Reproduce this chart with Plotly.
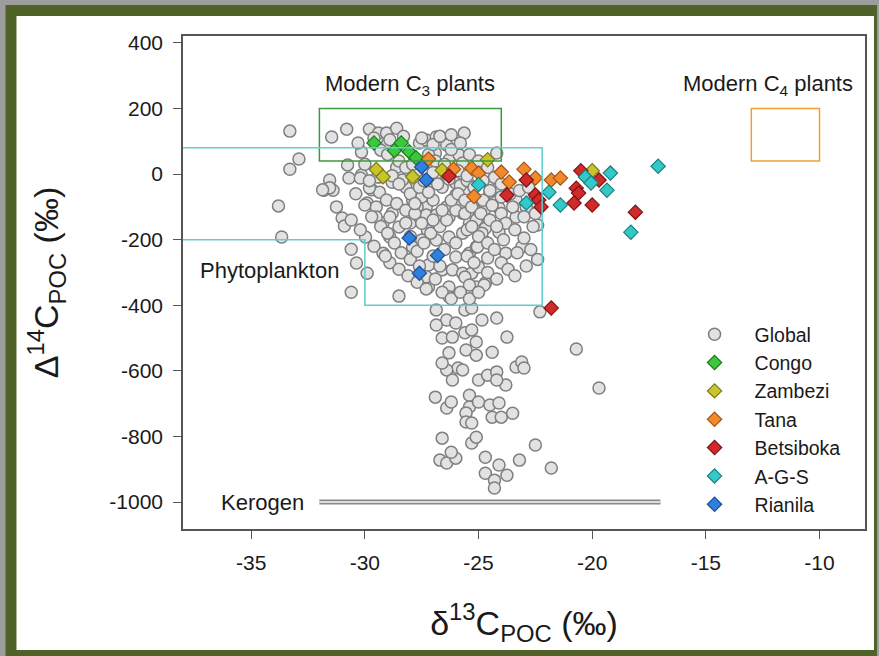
import plotly.graph_objects as go

# ---- data: delta13C (x, permil) and Delta14C (y, permil) ----
global_x = [
    -33.3, -31.46, -30.8, -29.8, -29.4, -29.05, -28.6, -32.9, -33.3, -30.15, -30.76, -31.55, -31.8, -31.4,
    -30.7, -30.15, -33.8, -31.25, -31.0, -30.9, -33.66, -29.97, -30.6, -30.37, -29.9, -30.6, -29.2, -28.5,
    -29.0, -29.36, -29.7, -29.36, -29.9, -29.5, -29.05, -29.2, -28.8, -28.5, -28.9, -27.9, -28.0, -27.6,
    -27.9, -28.2, -27.6, -27.3, -27.7, -28.6, -27.3, -27.25, -27.6, -27.3,
    -25.63, -26.86, -26.4, -26.0, -29.3, -31.55, -31.86, -30.2, -29.8, -29.45, -28.8, -28.35, -26.9, -26.8,
    -26.3, -25.85, -25.7, -26.9, -26.6, -26.0, -26.0, -25.55, -25.1, -26.4, -27.0, -27.5, -27.7, -27.3,
    -26.86, -26.3, -25.7, -25.4, -25.0, -25.7, -26.3, -26.86, -27.5, -28.2, -28.9, -29.5, -30.0,
    -27.2, -26.6, -26.15, -25.7, -25.3, -26.0, -25.4, -25.1, -24.8, -24.7, -24.7, -25.1, -26.3, -27.2,
    -27.3, -26.3,
    -26.86, -26.4, -26.86, -26.0, -25.6, -25.3, -24.85, -24.2, -26.6, -26.15, -25.6, -25.3, -25.1, -25.55,
    -26.3, -25.9, -26.4, -26.6, -26.15, -25.7, -25.1, -24.4, -23.75, -25.0, -24.6, -24.2, -23.8, -24.2,
    -23.35, -23.1, -26.9, -26.4, -26.2, -25.4, -25.4, -25.55, -25.55, -25.0, -24.5, -24.1, -24.4, -24.0,
    -23.5, -25.3, -26.6, -25.3, -25.1, -26.7, -26.4, -26.0, -26.2, -24.7, -24.7, -24.1, -23.75, -24.3,
    -24.3, -23.2,
    -23.0, -20.7, -22.5, -21.8, -22.3, -19.7,
    -24.2, -22.4, -23.1, -24.1, -23.8, -24.6, -25.0, -22.5, -24.1, -24.75, -25.1, -25.2, -25.85, -25.5,
    -24.85, -23.35, -24.5, -24.1, -23.35, -22.9, -25.6, -25.4, -24.75, -25.05,
    -29.0, -28.5, -28.2, -27.9, -27.2, -26.9, -26.5, -26.2, -25.8, -25.4, -25.0, -24.6, -24.3, -24.0,
    -23.6, -23.2, -22.8,
    -28.8, -28.5, -28.0, -27.6, -27.2, -26.8, -26.3, -25.8, -25.5, -25.2, -24.8, -24.4, -24.0, -23.8,
    -23.4, -23.0, -22.7, -22.4,
    -29.7, -29.3, -29.0, -28.7, -28.4, -28.0, -27.7, -27.4, -27.1, -26.7, -26.4, -26.0, -25.6, -25.3,
    -25.0, -24.6, -24.3, -24.0, -23.7, -23.4,
    -28.6, -28.2, -27.8, -27.5, -27.0, -26.6, -26.2, -25.9, -25.6, -25.3, -24.9, -24.5, -24.2, -23.9,
    -28.9, -28.5, -28.1, -27.7, -27.3, -26.9, -26.6, -26.2, -25.8, -25.4, -25.0, -24.6, -24.2,
    -27.5, -27.0, -26.7, -26.2, -28.3, -28.9, -29.6, -30.3, -30.0, -29.8, -30.4, -30.6, -30.2, -29.6,
    -29.1, -27.0, -26.5, -26.0, -25.5, -25.2, -26.7, -27.6, -28.0, -27.8, -27.4, -27.0, -26.4, -25.9,
    -25.5, -24.8, -24.5, -24.0, -23.5, -23.0, -22.6, -22.9, -23.3, -22.5,
]
global_y = [
    131, 113, 137, 137, 125, 125, 140, 46, 15, 67, 28, -18, -49, -49,
    -12, -3, -97, -100, -134, -158, -192, -192, -229, -271, -302, -360, -241, -372,
    95, -9, -48, -55, -88, -100, -79, -149, -119, -161, -192, -222, -149, -131,
    -79, -40, -49, -18, 6, 21, -100, -171, 95, 104,
    125, 113, 89, 73, 73, -42, -48, -12, -42, -9, -25, -18, 64, 21,
    43, 58, 34, -9, -40, -27, -64, -58, -79, -100, -79, -70, -100, -125,
    -125, -131, -119, -149, -131, -180, -192, -201, -201, -149, -131, -131, -94,
    -277, -292, -292, -302, -302, -253, -241, -222, -201, -165, -332, -344, -344, -344,
    -313, -374,
    -414, -445, -460, -454, -414, -408, -445, -439, -500, -497, -484, -475, -512, -536,
    -545, -591, -597, -576, -628, -597, -552, -543, -497, -628, -613, -603, -643, -628,
    -588, -573, -680, -713, -695, -674, -710, -728, -756, -695, -704, -698, -741, -741,
    -729, -759, -805, -820, -802, -872, -881, -866, -848, -863, -912, -887, -918, -933,
    -957, -872,
    -591, -533, -826, -896, -420, -652,
    64, -155, -222, -177, -241, -256, -283, -73, -103, -110, -140, -70, -94, -170,
    -180, -131, -55, -40, -79, -100, -314, -338, -338, -222,
    60, 40, 20, 30, 60, 40, 30, 75, 95, 60, 40, 20, -10, -30,
    -60, -50, -40,
    -5, -30, -60, -40, -55, -30, -15, -35, -20, -40, -80, -95, -120, -150,
    -170, -195, -230, -260,
    -130, -160, -180, -210, -240, -260, -235, -210, -180, -160, -140, -110, -120, -160,
    -190, -210, -230, -270, -290, -310,
    -90, -110, -120, -150, -140, -110, -80, -60, -80, -100, -120, -140, -160, -200,
    -270, -290, -310, -330, -350, -320, -360, -380, -360, -380, -360, -300, -320,
    110, 90, 115, 120, 115, 105, 110, 95, 30, -20, -60, -140, -170, -220,
    -250, -250, -230, -210, -250, -270, -280, -280, -190, -90, -20, 5, 0, 10,
    -5, -20, -50, -70, -100, -130, -160, -280, -240, -120,
]

congo_x = [-29.6, -28.7, -28.4, -28.05, -27.75]
congo_y = [95, 72, 95, 68, 50]

zambezi_x = [-29.5, -29.2, -27.9, -26.6, -24.6, -20.0]
zambezi_y = [14, -8, -8, 12, 44, 10]

tana_x = [-27.2, -26.1, -25.3, -25.0, -25.2, -24.0, -23.65, -23.0, -22.5, -21.8, -21.4]
tana_y = [46, 15, 18, 3, -68, 6, -24, 15, -12, -18, -12]

betsiboka_x = [-26.3, -23.75, -22.9, -22.5, -22.35, -22.25, -20.5, -20.7, -20.6, -20.8, -20.0, -19.7, -18.1, -21.8]
betsiboka_y = [-6, -64, -18, -64, -79, -100, 10, -43, -58, -88, -94, -18, -116, -408]

ags_x = [-25.0, -22.9, -21.9, -21.4, -20.3, -20.05, -19.2, -19.35, -17.1, -18.3]
ags_y = [-32, -88, -55, -94, -9, -27, 3, -49, 24, -177]

rianila_x = [-27.5, -27.3, -28.05, -26.8, -27.6]
rianila_y = [22, -18, -195, -248, -302]

x_ticks = [-35, -30, -25, -20, -15, -10]
x_ticktext = ["-35", "-30", "-25", "-20", "-15", "-10"]
y_ticks = [400, 200, 0, -200, -400, -600, -800, -1000]
y_ticktext = ["400", "200", "0", "-200", "-400", "-600", "-800", "-1000"]

FONT = "Liberation Sans, Arial, sans-serif"
TXT = "#1a1a1a"

fig = go.Figure()

fig.add_trace(go.Scatter(
    x=global_x, y=global_y, mode="markers", name="Global",
    marker=dict(symbol="circle", size=12, color="#e2e2e2",
                line=dict(color="#7f7f7f", width=1.5)),
))

rivers = [
    ("Congo", congo_x, congo_y, "#3cc83c", "#1f7a1f"),
    ("Zambezi", zambezi_x, zambezi_y, "#c9c42a", "#7c7a1a"),
    ("Tana", tana_x, tana_y, "#f2892a", "#a3561a"),
    ("Betsiboka", betsiboka_x, betsiboka_y, "#d02a2a", "#7e1414"),
    ("A-G-S", ags_x, ags_y, "#35c8c8", "#1c7f80"),
    ("Rianila", rianila_x, rianila_y, "#2f7fdc", "#1a4f93"),
]
for name, xs, ys, fill, edge in rivers:
    fig.add_trace(go.Scatter(
        x=xs, y=ys, mode="markers", name=name,
        marker=dict(symbol="diamond", size=11, color=fill,
                    line=dict(color=edge, width=1.2)),
    ))

# plot-area geometry in pixels, used to place the framed background
W, H = 879, 656
ML, MR, MT, MB = 183, 12, 36, 127
PW, PH = W - ML - MR, H - MT - MB


def px(xp):
    return (xp - ML) / PW


def py(yp):
    return 1 - (yp - MT) / PH


shapes = [
    # green frame and white card behind the chart
    dict(type="rect", xref="paper", yref="paper", layer="below",
         x0=px(5), x1=px(879), y0=py(656), y1=py(5),
         fillcolor="#4f6228", line=dict(width=0)),
    dict(type="rect", xref="paper", yref="paper", layer="below",
         x0=px(16), x1=px(876), y0=py(650), y1=py(16),
         fillcolor="#ffffff", line=dict(width=0)),
    # modern C3 plants
    dict(type="rect", xref="x", yref="y", x0=-32, x1=-24, y0=40, y1=200,
         line=dict(color="#3c9a3c", width=1.5)),
    # modern C4 plants
    dict(type="rect", xref="x", yref="y", x0=-13, x1=-10, y0=40, y1=200,
         line=dict(color="#f0a033", width=1.5)),
    # phytoplankton
    dict(type="path", xref="x", yref="y",
         path="M -38,80 L -22.2,80 L -22.2,-400 L -30,-400 L -30,-200 L -38,-200",
         line=dict(color="#5ccfcf", width=1.5)),
    # kerogen
    dict(type="line", xref="x", yref="y", x0=-32, x1=-17, y0=-1000, y1=-1000,
         line=dict(color="#8a8a8a", width=5)),
    dict(type="line", xref="x", yref="y", x0=-32, x1=-17, y0=-1000, y1=-1000,
         line=dict(color="#dcdcdc", width=2)),
]

ANN_FONT = dict(size=22, color=TXT)
annotations = [
    dict(x=-28.0, y=272, text="Modern C<sub>3</sub> plants", showarrow=False,
         xanchor="center", yanchor="middle", font=ANN_FONT),
    dict(x=-12.25, y=272, text="Modern C<sub>4</sub> plants", showarrow=False,
         xanchor="center", yanchor="middle", font=ANN_FONT),
    dict(x=-34.2, y=-293, text="Phytoplankton", showarrow=False,
         xanchor="center", yanchor="middle", font=ANN_FONT),
    dict(x=-34.5, y=-1000, text="Kerogen", showarrow=False,
         xanchor="center", yanchor="middle", font=ANN_FONT),
]

axis_common = dict(
    showline=True, mirror=True, linecolor="#555555", linewidth=1.5,
    ticks="outside", ticklen=8, tickwidth=1.2, tickcolor="#555555",
    showgrid=False, zeroline=False,
    tickfont=dict(size=21, color=TXT),
)

fig.update_layout(
    width=W, height=H,
    margin=dict(l=ML, r=MR, t=MT, b=MB),
    paper_bgcolor="#9d9d9d",
    plot_bgcolor="#ffffff",
    font=dict(family=FONT, color=TXT),
    shapes=shapes,
    annotations=annotations,
    xaxis=dict(range=[-38, -8], tickvals=x_ticks, ticktext=x_ticktext,
               ticklabelstandoff=6,
               title=dict(text="δ<sup>13</sup>C<sub>POC</sub> (‰)",
                          font=dict(size=34, color=TXT), standoff=38),
               **axis_common),
    yaxis=dict(range=[-1082, 421], tickvals=y_ticks, ticktext=y_ticktext,
               ticklabelstandoff=6,
               title=dict(text="Δ<sup>14</sup>C<sub>POC</sub> (‰)",
                          font=dict(size=34, color=TXT), standoff=40),
               **axis_common),
    legend=dict(x=px(676), y=py(315), xanchor="left", yanchor="top",
                bgcolor="rgba(0,0,0,0)", font=dict(size=19.5, color=TXT),
                itemwidth=70, itemsizing="trace", tracegroupgap=0),
    showlegend=True,
)

fig.write_html("out.html")
